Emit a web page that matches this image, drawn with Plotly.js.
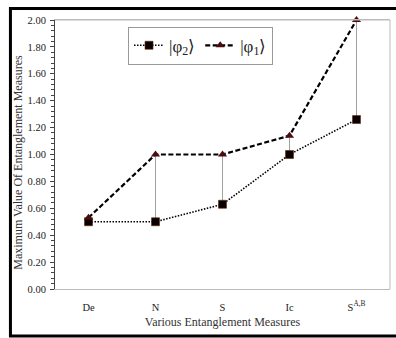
<!DOCTYPE html>
<html>
<head>
<meta charset="utf-8">
<script src="https://cdn.plot.ly/plotly-3.0.1.min.js"></script>
<style>html,body{margin:0;padding:0;background:#fff}#chart{width:396px;height:338px}</style>
</head>
<body>
<div id="chart"></div>
<script>
const categories = ['De', 'N', 'S', 'Ic', 'S<sup>A,B</sup>'];
const phi2 = [0.50, 0.50, 0.63, 1.00, 1.26];
const phi1 = [0.53, 1.00, 1.00, 1.14, 2.00];
const yTicks = [0, 0.2, 0.4, 0.6, 0.8, 1.0, 1.2, 1.4, 1.6, 1.8, 2.0];
const yTickText = yTicks.map(v => v.toFixed(2));

const serif = '"Liberation Serif", "Times New Roman", serif';

// gray high-low drop lines from phi2 to phi1
const dx = [], dy = [];
categories.forEach((c, i) => { dx.push(c, c, null); dy.push(phi2[i], phi1[i], null); });

const traces = [
  {x: dx, y: dy, mode: 'lines', line: {color: '#a0a0a0', width: 1}, showlegend: false, hoverinfo: 'skip', cliponaxis: false},
  {x: categories, y: phi2, name: '|φ<sub>2</sub>⟩', mode: 'lines+markers', cliponaxis: false,
   line: {color: '#000', width: 1.6, dash: '1.5px,1.5px'},
   marker: {symbol: 'square', size: 8, color: '#080000', line: {color: '#6b2a00', width: 0.6}}},
  {x: categories, y: phi1, name: '|φ<sub>1</sub>⟩', mode: 'lines+markers', cliponaxis: false,
   line: {color: '#000', width: 2.2, dash: '5px,2.5px'},
   marker: {symbol: 'triangle-up', size: 8, color: '#4a0c0c'}}
];

const layout = {
  width: 396, height: 338,
  margin: {l: 55, r: 6, t: 20, b: 49},
  paper_bgcolor: '#fff', plot_bgcolor: '#fff',
  font: {family: serif, color: '#333', size: 10},
  showlegend: true,
  legend: {orientation: 'h', x: 0.218, y: 0.975, xanchor: 'left', yanchor: 'top',
    bordercolor: '#999', borderwidth: 1, bgcolor: '#fff',
    font: {family: serif, size: 17, color: '#222'}, itemwidth: 30},
  xaxis: {type: 'category', range: [-0.5, 4.5], showgrid: false, zeroline: false,
    showline: true, linecolor: '#bbb', mirror: true, ticks: '', ticklabelstandoff: 8,
    tickfont: {family: serif, size: 10.5, color: '#222'},
    title: {text: 'Various Entanglement Measures', font: {family: serif, size: 12, color: '#333'}, standoff: 6}},
  yaxis: {range: [0, 2], tickvals: yTicks, ticktext: yTickText, showgrid: false, zeroline: false,
    showline: true, linecolor: '#444', linewidth: 1, mirror: false,
    ticks: 'outside', ticklen: 4, tickcolor: '#444', ticklabelstandoff: 2,
    minor: {dtick: 0.04, ticks: 'outside', ticklen: 3, tickcolor: '#444'},
    tickfont: {family: serif, size: 10.5, color: '#222'}},
  annotations: [
    {text: 'Maximum Value Of Entanglement Measures', xref: 'paper', yref: 'paper',
     x: -0.113, y: 0.47, textangle: -90, showarrow: false, xanchor: 'center', yanchor: 'middle',
     font: {family: serif, size: 12, color: '#333'}}
  ],
  shapes: [
    {type: 'line', xref: 'paper', yref: 'paper', x0: 1, x1: 1, y0: 0, y1: 1, line: {color: '#bbb', width: 1}},
    {type: 'line', xref: 'paper', yref: 'paper', x0: 0, x1: 1, y0: 1, y1: 1, line: {color: '#bbb', width: 1}},
    {type: 'rect', xref: 'paper', yref: 'paper', x0: -0.133, x1: 1.04, y0: -0.175, y1: 1.043, line: {color: '#000', width: 3}}
  ]
};

Plotly.newPlot('chart', traces, layout, {displayModeBar: false, staticPlot: true});
</script>
</body>
</html>
